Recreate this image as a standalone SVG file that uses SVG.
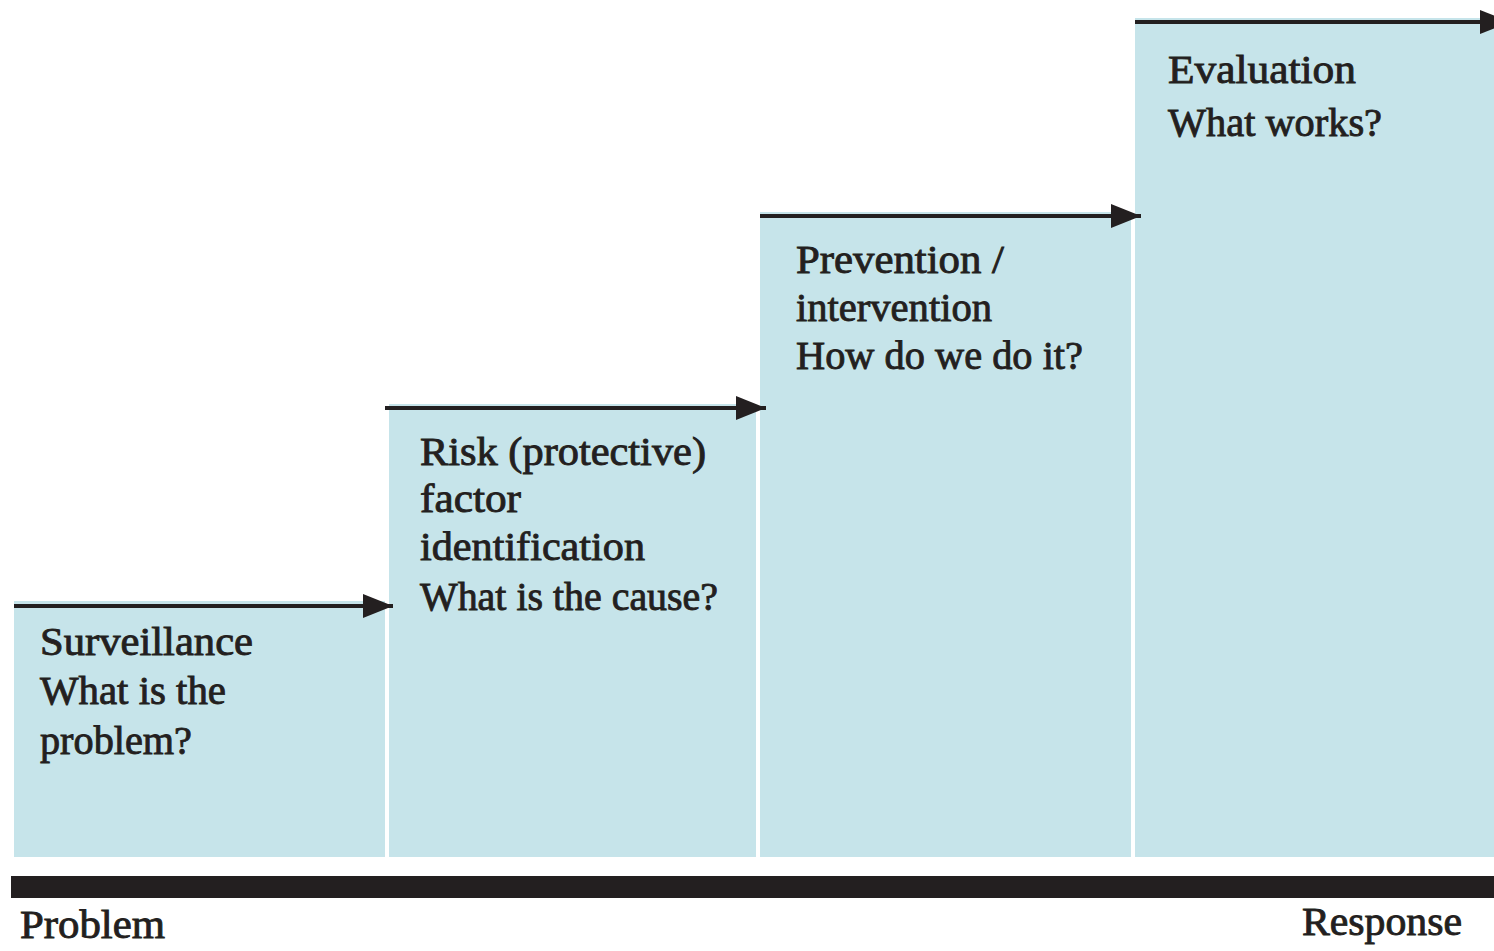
<svg xmlns="http://www.w3.org/2000/svg" width="1494" height="951" viewBox="0 0 1494 951">
<style>
.box{fill:#c6e4ea}
.ln{stroke:#231f20;stroke-width:4;fill:none}
.t{font-family:"Liberation Serif","Times New Roman",serif;font-size:41px;font-weight:normal;fill:#231f20;stroke:#231f20;stroke-width:0.9}
</style>
<defs>
<marker id="ah" viewBox="0 0 30 24" refX="30" refY="12" markerWidth="30" markerHeight="24" markerUnits="userSpaceOnUse" orient="auto">
<path d="M0,0 L30,12 L0,24 Z" fill="#231f20"/>
</marker>
</defs>
<rect width="1494" height="951" fill="#fff"/>
<g id="step1">
<rect class="box" x="14" y="601" width="371" height="256"/>
<text class="t" x="40" y="655" textLength="213" lengthAdjust="spacingAndGlyphs">Surveillance</text>
<text class="t" x="40" y="704" textLength="186" lengthAdjust="spacingAndGlyphs">What is the</text>
<text class="t" x="40" y="754" textLength="152" lengthAdjust="spacingAndGlyphs">problem?</text>
</g>
<g id="step2">
<rect class="box" x="389" y="404" width="367" height="453"/>
<text class="t" x="420" y="465" textLength="286" lengthAdjust="spacingAndGlyphs">Risk (protective)</text>
<text class="t" x="420" y="512" textLength="101" lengthAdjust="spacingAndGlyphs">factor</text>
<text class="t" x="420" y="560" textLength="225" lengthAdjust="spacingAndGlyphs">identification</text>
<text class="t" x="420" y="610" textLength="298" lengthAdjust="spacingAndGlyphs">What is the cause?</text>
</g>
<g id="step3">
<rect class="box" x="760" y="212" width="371" height="645"/>
<text class="t" x="796" y="273" textLength="208" lengthAdjust="spacingAndGlyphs">Prevention /</text>
<text class="t" x="796" y="321" textLength="196" lengthAdjust="spacingAndGlyphs">intervention</text>
<text class="t" x="796" y="369" textLength="287" lengthAdjust="spacingAndGlyphs">How do we do it?</text>
</g>
<g id="step4">
<rect class="box" x="1135" y="18" width="359" height="839"/>
<text class="t" x="1168" y="83" textLength="188" lengthAdjust="spacingAndGlyphs">Evaluation</text>
<text class="t" x="1168" y="136" textLength="214" lengthAdjust="spacingAndGlyphs">What works?</text>
</g>
<g id="connectors">
<line class="ln" x1="14" y1="606" x2="393" y2="606" marker-end="url(#ah)"/>
<line class="ln" x1="385" y1="408" x2="766" y2="408" marker-end="url(#ah)"/>
<line class="ln" x1="760" y1="216" x2="1141" y2="216" marker-end="url(#ah)"/>
<line class="ln" x1="1135" y1="22" x2="1510" y2="22" marker-end="url(#ah)"/>
</g>
<g id="axis">
<rect x="11" y="876" width="1483" height="22" fill="#231f20"/>
<text class="t" x="20" y="938" textLength="145" lengthAdjust="spacingAndGlyphs">Problem</text>
<text class="t" x="1302" y="935" textLength="160" lengthAdjust="spacingAndGlyphs">Response</text>
</g>
</svg>
